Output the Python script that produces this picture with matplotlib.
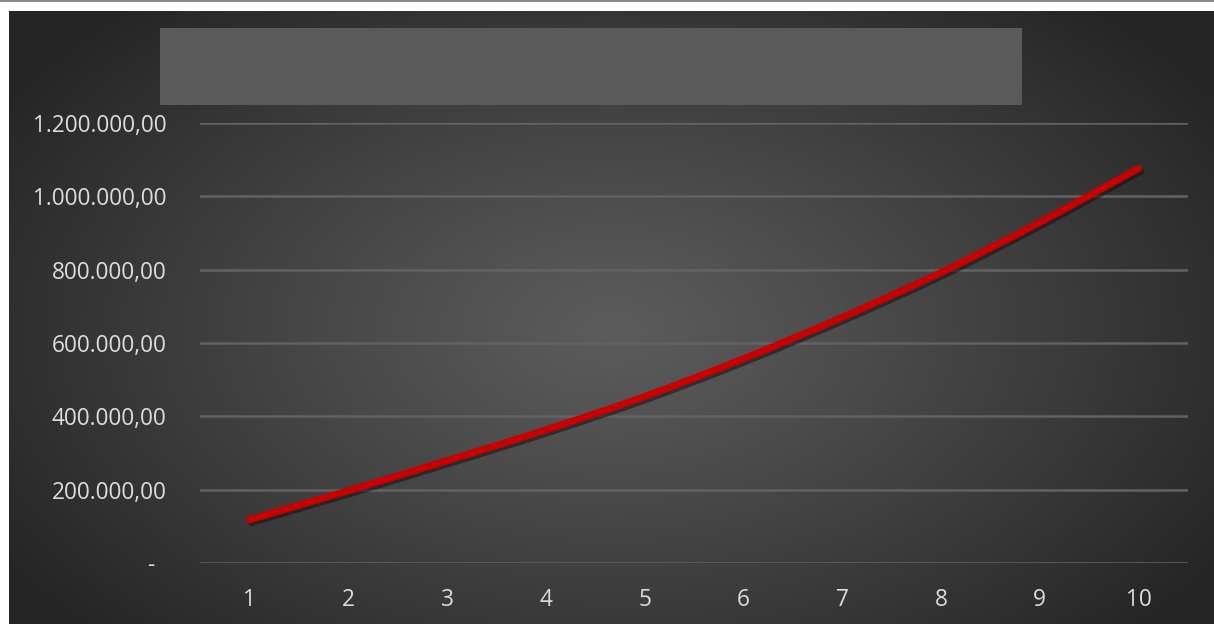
import numpy as np
import matplotlib.pyplot as plt
from matplotlib.path import Path
from matplotlib.patches import PathPatch, Rectangle
import matplotlib.patheffects as pe

years = [1, 2, 3, 4, 5, 6, 7, 8, 9, 10]
balance = [118000, 197000, 279000, 363000, 454000, 557000, 670000, 792000, 929000, 1076000]
yticks = [0, 200000, 400000, 600000, 800000, 1000000, 1200000]


def money(v):
    if v == 0:
        return "-  "
    s = "{:,.2f}".format(v)
    return s.replace(",", "X").replace(".", ",").replace("X", ".")


def smooth_path(xs, ys, t=1/6):
    # catmull-rom through the points, written out as cubic beziers
    xs = np.asarray(xs, float)
    ys = np.asarray(ys, float)
    px = np.concatenate([[xs[0]], xs, [xs[-1]]])
    py = np.concatenate([[ys[0]], ys, [ys[-1]]])
    verts = [(xs[0], ys[0])]
    codes = [Path.MOVETO]
    for i in range(1, len(px) - 2):
        c1 = (px[i] + (px[i + 1] - px[i - 1]) * t, py[i] + (py[i + 1] - py[i - 1]) * t)
        c2 = (px[i + 1] - (px[i + 2] - px[i]) * t, py[i + 1] - (py[i + 2] - py[i]) * t)
        verts += [c1, c2, (px[i + 1], py[i + 1])]
        codes += [Path.CURVE4] * 3
    return Path(verts, codes)


plt.rcParams['font.family'] = ['Open Sans', 'DejaVu Sans']

fig = plt.figure(figsize=(12.14, 6.24), dpi=100)
fig.patch.set_facecolor('white')

# thin grey strip across the very top
fig.add_artist(Rectangle((0, 1 - 2 / 624), 1, 2 / 624, transform=fig.transFigure,
                         facecolor='#8a8a8a', edgecolor='none'))

# dark radial background of the chart area
bg = fig.add_axes([9 / 1214, 0, 1 - 9 / 1214, (624 - 11) / 624])
bg.set_axis_off()
h, w = 300, 600
yy, xx = np.mgrid[0:h, 0:w]
d = np.sqrt(((xx - w * 0.5) / (w * 0.6)) ** 2 + ((yy - h * 0.52) / (h * 0.72)) ** 2)
d = np.clip(d, 0, 1)
inner, outer = 0x5c / 255, 0x25 / 255
shade = inner + (outer - inner) * d ** 1.1
img = np.dstack([shade, shade, shade])
bg.imshow(img, aspect='auto', extent=[0, 1, 0, 1], interpolation='bicubic')
bg.set_xlim(0, 1)
bg.set_ylim(0, 1)

# title block
fig.add_artist(Rectangle((160 / 1214, (624 - 105) / 624), 862 / 1214, 77 / 624,
                         transform=fig.transFigure, facecolor='#5a5a5a', edgecolor='none'))

ax = fig.add_axes([200 / 1214, (624 - 563) / 624, 988 / 1214, 440 / 624])
ax.patch.set_alpha(0)
for s in ax.spines.values():
    s.set_visible(False)

ax.set_xlim(0.5, 10.5)
ax.set_ylim(0, 1200000)
ax.set_yticks(yticks)
ax.set_yticklabels([money(v) for v in yticks])
ax.set_xticks(years)
ax.set_xticklabels([str(y) for y in years])
ax.tick_params(axis='both', length=0, labelcolor='#dcdcdc', labelsize=16.3)
ax.tick_params(axis='y', pad=24)
ax.tick_params(axis='x', pad=18)
ax.grid(axis='y', color='#626262', linewidth=1.8)
ax.set_axisbelow(True)

curve = PathPatch(smooth_path(years, balance), facecolor='none', edgecolor='#c80000',
                  linewidth=5, capstyle='round', joinstyle='round', zorder=3)
curve.set_path_effects([pe.SimpleLineShadow(offset=(1.5, -2), shadow_color='#111111', alpha=0.55),
                        pe.Normal()])
ax.add_patch(curve)

fig.savefig('out.png', dpi=100, facecolor=fig.get_facecolor())
